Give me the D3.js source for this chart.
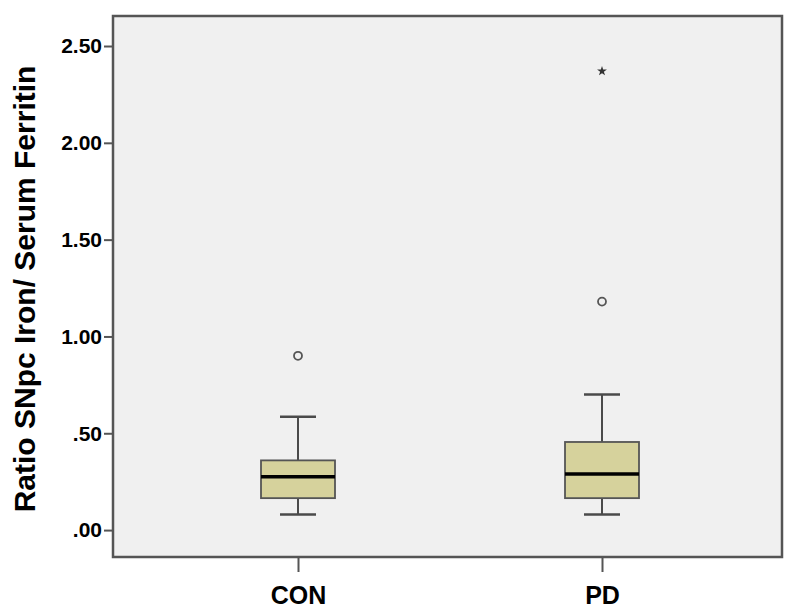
<!DOCTYPE html>
<html>
<head>
<meta charset="utf-8">
<script src="https://cdn.jsdelivr.net/npm/d3@7"></script>
<style>
  body { margin: 0; background: #fff; }
  text { font-family: "Liberation Sans", Arial, sans-serif; font-weight: bold; }
</style>
</head>
<body>
<svg id="chart" width="800" height="615"></svg>
<script>
// groups and their box stats
var groups = ["CON", "PD"];
var lowWhisker = [0.08, 0.08];
var q1 = [0.165, 0.165];
var median = [0.275, 0.29];
var q3 = [0.36, 0.455];
var highWhisker = [0.585, 0.70];
// outliers: circles and extremes (stars)
var outGroup = ["CON", "PD"];
var outValue = [0.90, 1.18];
var extGroup = ["PD"];
var extValue = [2.37];
var yTicks = [0, 0.5, 1, 1.5, 2, 2.5];

var svg = d3.select("#chart");
var plotL = 113, plotR = 782, plotT = 16, plotB = 557;

var y = d3.scaleLinear().domain([-0.139, 2.655]).range([plotB, plotT]);
var x = d3.scalePoint().domain(groups).range([298, 602]);

svg.append("rect")
  .attr("x", plotL).attr("y", plotT)
  .attr("width", plotR - plotL).attr("height", plotB - plotT)
  .attr("fill", "#f0f0f0").attr("stroke", "#555").attr("stroke-width", 2.5);

var fmt = function(d) { return d3.format(".2f")(d).replace(/^0\./, "."); };

var yAxis = svg.append("g")
  .attr("transform", "translate(" + plotL + ",0)")
  .call(d3.axisLeft(y).tickValues(yTicks).tickFormat(fmt).tickSize(9).tickPadding(2));
yAxis.select(".domain").remove();
yAxis.selectAll("line").attr("stroke", "#555").attr("stroke-width", 2);
yAxis.selectAll("text").attr("fill", "#000").style("font-size", "21px");

var xAxis = svg.append("g")
  .attr("transform", "translate(0," + plotB + ")")
  .call(d3.axisBottom(x).tickSize(15).tickPadding(14));
xAxis.select(".domain").remove();
xAxis.selectAll("line").attr("stroke", "#555").attr("stroke-width", 2);
xAxis.selectAll("text").attr("fill", "#000").style("font-size", "25px");

svg.append("text")
  .attr("transform", "translate(35,289) rotate(-90)")
  .attr("text-anchor", "middle")
  .style("font-size", "30px")
  .text("Ratio SNpc Iron/ Serum Ferritin");

var boxW = 74, capW = 36;
var g = svg.append("g");
groups.forEach(function(name, i) {
  var cx = x(name);
  g.append("line").attr("x1", cx).attr("x2", cx)
    .attr("y1", y(highWhisker[i])).attr("y2", y(q3[i]))
    .attr("stroke", "#4a4a4a").attr("stroke-width", 2);
  g.append("line").attr("x1", cx).attr("x2", cx)
    .attr("y1", y(q1[i])).attr("y2", y(lowWhisker[i]))
    .attr("stroke", "#4a4a4a").attr("stroke-width", 2);
  [highWhisker[i], lowWhisker[i]].forEach(function(v) {
    g.append("line").attr("x1", cx - capW / 2).attr("x2", cx + capW / 2)
      .attr("y1", y(v)).attr("y2", y(v))
      .attr("stroke", "#4a4a4a").attr("stroke-width", 2.5);
  });
  g.append("rect")
    .attr("x", cx - boxW / 2).attr("y", y(q3[i]))
    .attr("width", boxW).attr("height", y(q1[i]) - y(q3[i]))
    .attr("fill", "#d6d29c").attr("stroke", "#555").attr("stroke-width", 1.8);
  g.append("line").attr("x1", cx - boxW / 2).attr("x2", cx + boxW / 2)
    .attr("y1", y(median[i])).attr("y2", y(median[i]))
    .attr("stroke", "#000").attr("stroke-width", 3.5);
});

g.selectAll(".outlier").data(outValue).enter().append("circle")
  .attr("class", "outlier")
  .attr("cx", function(d, i) { return x(outGroup[i]); })
  .attr("cy", function(d) { return y(d); })
  .attr("r", 4).attr("fill", "none").attr("stroke", "#555").attr("stroke-width", 1.8);

g.selectAll(".extreme").data(extValue).enter().append("path")
  .attr("class", "extreme")
  .attr("transform", function(d, i) { return "translate(" + x(extGroup[i]) + "," + y(d) + ")"; })
  .attr("d", d3.symbol(d3.symbolStar, 30))
  .attr("fill", "#333");
</script>
</body>
</html>
